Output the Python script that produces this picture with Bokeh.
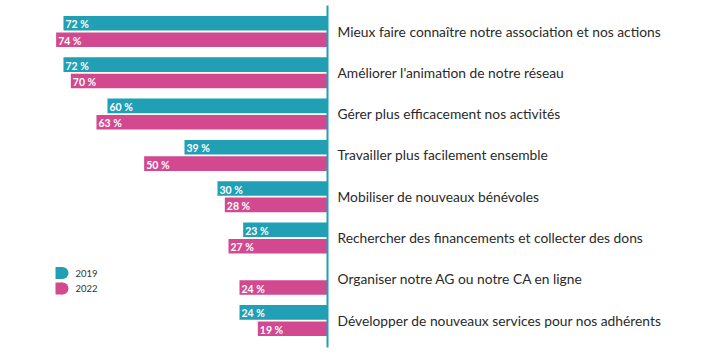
from bokeh.plotting import figure
from bokeh.models import Range1d, ColumnDataSource
from bokeh.core.properties import value
from bokeh.embed import file_html
from bokeh.resources import INLINE

categories = [
    "Mieux faire connaître notre association et nos actions",
    "Améliorer l'animation de notre réseau",
    "Gérer plus efficacement nos activités",
    "Travailler plus facilement ensemble",
    "Mobiliser de nouveaux bénévoles",
    "Rechercher des financements et collecter des dons",
    "Organiser notre AG ou notre CA en ligne",
    "Développer de nouveaux services pour nos adhérents",
]
values_2019 = [72, 72, 60, 39, 30, 23, None, 24]
values_2022 = [74, 70, 63, 50, 28, 27, 24, 19]
series_names = ["2019", "2022"]

TEAL = "#209fb5"
PINK = "#d2498f"
FONT = "Lato"

W, H = 713, 353
PX_PER_UNIT = 3.667
ZERO_PX = 327
ROW_PX = 41.3
ROW0_PX = 31

x_start = ZERO_PX / PX_PER_UNIT
x_end = (ZERO_PX - W) / PX_PER_UNIT
y_start = (H - ROW0_PX) / ROW_PX
y_end = -ROW0_PX / ROW_PX

p = figure(width=W, height=H, output_backend="svg", toolbar_location=None,
           x_range=Range1d(x_start, x_end), y_range=Range1d(y_start, y_end),
           min_border=0, outline_line_color=None)
p.axis.visible = False
p.grid.visible = False
p.background_fill_color = "white"
p.border_fill_color = "white"

off = 8.2 / ROW_PX
bh = 14.6 / ROW_PX

def build(vals, sign):
    ys, xs, lbl = [], [], []
    for i, v in enumerate(vals):
        if v is None:
            continue
        ys.append(i + sign * off)
        xs.append(v)
        lbl.append(f"{v} %")
    return ColumnDataSource(dict(y=ys, v=xs, z=[0] * len(xs), lbl=lbl))

s19 = build(values_2019, -1)
s22 = build(values_2022, +1)

for src, col in ((s19, TEAL), (s22, PINK)):
    p.hbar(y="y", left="v", right="z", height=bh, source=src,
           fill_color=col, line_color=None)
    p.text(x="v", y="y", text="lbl", source=src, x_offset=2, y_offset=1,
           text_font=value(FONT), text_font_style="bold", text_font_size="10.5px",
           text_color="white", text_baseline="middle", text_align="left")

# vertical axis line
p.segment(x0=[0], y0=[y_end + 5 / ROW_PX], x1=[0], y1=[y_end + 347 / ROW_PX],
          line_color=TEAL, line_width=2)

# category labels
p.text(x=[-10 / PX_PER_UNIT] * len(categories), y=list(range(len(categories))),
       text=categories, text_font=value(FONT), text_font_size="13.8px",
       text_color="#2a2a2a", text_baseline="middle", text_align="left",
       y_offset=-0.5)

# legend
leg_rect_x = (ZERO_PX - 58.5) / PX_PER_UNIT
leg_circ_x = (ZERO_PX - 62) / PX_PER_UNIT
leg_tx = (ZERO_PX - 75) / PX_PER_UNIT
leg_y = [y_end + 272.5 / ROW_PX, y_end + 288 / ROW_PX]
for yy, col, name in zip(leg_y, (TEAL, PINK), series_names):
    p.rect(x=[leg_rect_x], y=[yy], width=7, height=12, width_units="screen",
           height_units="screen", fill_color=col, line_color=None)
    p.scatter(x=[leg_circ_x], y=[yy], marker="circle", size=12,
              fill_color=col, line_color=None)
    p.text(x=[leg_tx], y=[yy], text=[name], text_font=value(FONT),
           text_font_size="9.5px", text_color="#333333",
           text_baseline="middle", text_align="left")

open("out.html", "w").write(file_html(p, INLINE))
